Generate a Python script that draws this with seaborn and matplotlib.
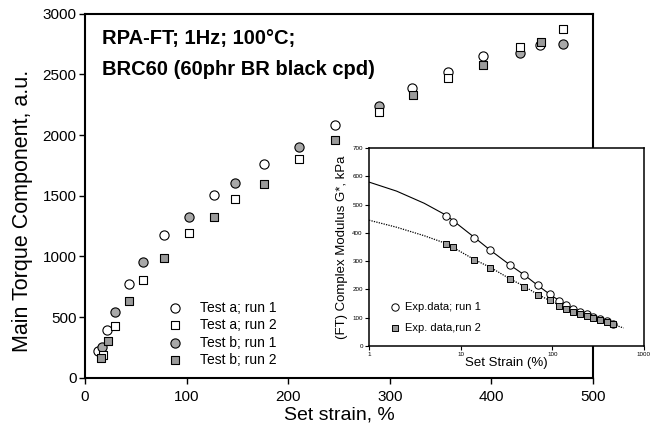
import matplotlib
matplotlib.use('Agg')
import matplotlib.pyplot as plt
import seaborn as sns

# ---- main chart: torque vs set strain ----
a1_strain = [13, 22, 43, 78, 127, 176, 246, 322, 357, 392, 448]
a1_torque = [220, 393, 770, 1176, 1503, 1762, 2083, 2390, 2523, 2647, 2743]
a2_strain = [18, 30, 57, 102, 148, 211, 289, 357, 428, 470]
a2_torque = [187, 426, 805, 1196, 1470, 1806, 2193, 2470, 2722, 2874]
b1_strain = [17, 29.5, 57, 102, 148, 211, 289, 428, 470]
b1_torque = [256, 539, 951, 1327, 1605, 1905, 2235, 2675, 2751]
b2_strain = [15.7, 22.3, 43, 78, 127, 176.5, 246, 322.5, 392, 448.5]
b2_torque = [160, 302, 632, 989, 1327, 1600, 1960, 2331, 2578, 2770]

# ---- inset: complex modulus vs strain (log) ----
ins_strain = [6.9, 8.3, 14, 21, 35, 49, 70, 94, 118, 143, 169, 200, 237, 280, 331, 392, 462]
ins_run1 = [461, 440, 383, 338, 287, 252, 214, 182, 160, 145, 132, 121, 112, 103, 95, 86, 77]
ins_run2 = [360, 349, 304, 276, 235, 209, 180, 161, 141, 131, 120, 111, 104, 97, 91, 84, 77]
fit1_strain = [1, 2, 4, 7, 14, 21, 35, 50, 70, 100, 150, 200, 300, 470]
fit1_mod = [580, 548, 505, 462, 385, 339, 285, 250, 213, 176, 140, 122, 97, 76]
fit2_strain = [1, 2, 4, 7, 14, 21, 35, 50, 70, 100, 150, 200, 300, 450, 600]
fit2_mod = [445, 420, 390, 362, 306, 278, 236, 210, 181, 156, 128, 112, 92, 77, 63]

sns.set_theme(style='ticks')
plt.rcParams['font.family'] = ['Liberation Sans', 'DejaVu Sans']
plt.rcParams.update({'text.color': 'black', 'axes.labelcolor': 'black',
                     'xtick.color': 'black', 'ytick.color': 'black'})

grey_c = '#a8a8a8'
grey_s = '#9a9a9a'

fig = plt.figure(figsize=(6.59, 4.36), dpi=100)
ax = fig.add_axes([0.129, 0.1337, 0.771, 0.835])

# circles first, squares on top
sns.scatterplot(x=a1_strain, y=a1_torque, marker='o', s=44, color='white',
                edgecolor='black', linewidth=0.8, ax=ax, zorder=3, label='Test a; run 1')
sns.scatterplot(x=b1_strain, y=b1_torque, marker='o', s=44, color=grey_c,
                edgecolor='black', linewidth=0.8, ax=ax, zorder=3, label='Test b; run 1')
sns.scatterplot(x=a2_strain, y=a2_torque, marker='s', s=36, color='white',
                edgecolor='black', linewidth=0.8, ax=ax, zorder=4, label='Test a; run 2')
sns.scatterplot(x=b2_strain, y=b2_torque, marker='s', s=36, color=grey_s,
                edgecolor='black', linewidth=0.8, ax=ax, zorder=4, label='Test b; run 2')

ax.set_xlim(0, 500)
ax.set_ylim(0, 3000)
ax.set_xticks([0, 100, 200, 300, 400, 500])
ax.set_yticks([0, 500, 1000, 1500, 2000, 2500, 3000])
ax.tick_params(axis='both', direction='out', length=4, width=1, labelsize=11, color='black')
ax.tick_params(axis='x', pad=5)
ax.tick_params(axis='y', pad=2)
for sp in ax.spines.values():
    sp.set_visible(True)
    sp.set_linewidth(1.5)
    sp.set_color('black')
ax.grid(False)

ax.set_xlabel('Set strain, %', fontsize=14, labelpad=1.5)
ax.set_ylabel('Main Torque Component, a.u.', fontsize=15.5)
ax.yaxis.set_label_coords(-0.102, 0.459)

ax.text(0.033, 0.957, 'RPA-FT; 1Hz; 100°C;', transform=ax.transAxes,
        fontsize=14.5, fontweight='bold', va='top', ha='left')
ax.text(0.033, 0.873, 'BRC60 (60phr BR black cpd)', transform=ax.transAxes,
        fontsize=14.5, fontweight='bold', va='top', ha='left')

h, l = ax.get_legend_handles_labels()
order = [l.index(n) for n in ['Test a; run 1', 'Test a; run 2', 'Test b; run 1', 'Test b; run 2']]
ax.legend([h[i] for i in order], [l[i] for i in order], loc='lower left',
          bbox_to_anchor=(0.139, 0.014), borderaxespad=0, frameon=False,
          fontsize=10, labelspacing=0.25, handletextpad=0.8)

# ---- inset ----
ins = fig.add_axes([0.560, 0.207, 0.417, 0.453])
ins.set_facecolor('white')
sns.lineplot(x=fit1_strain, y=fit1_mod, color='black', linewidth=0.8, ax=ins, zorder=2)
sns.lineplot(x=fit2_strain, y=fit2_mod, color='black', linewidth=0.9,
             linestyle=(0, (1, 1)), ax=ins, zorder=2)
sns.scatterplot(x=ins_strain, y=ins_run1, marker='o', s=28, color='white',
                edgecolor='black', linewidth=0.7, ax=ins, zorder=3, label='Exp.data; run 1')
sns.scatterplot(x=ins_strain, y=ins_run2, marker='s', s=22, color=grey_s,
                edgecolor='black', linewidth=0.7, ax=ins, zorder=4, label='Exp. data,run 2')

ins.set_xscale('log')
ins.set_xlim(1, 1000)
ins.set_ylim(0, 700)
ins.set_xticks([1, 10, 100, 1000])
ins.set_xticklabels(['1', '10', '100', '1000'])
ins.minorticks_off()
ins.set_yticks([0, 100, 200, 300, 400, 500, 600, 700])
ins.tick_params(axis='both', direction='out', length=3, width=0.8, labelsize=4.5, pad=1.5)
for sp in ins.spines.values():
    sp.set_visible(True)
    sp.set_linewidth(1.1)
    sp.set_color('black')
ins.grid(False)
ins.set_xlabel('Set Strain (%)', fontsize=9.5, labelpad=0)
ins.set_ylabel('(FT) Complex Modulus G*, kPa', fontsize=9.5, labelpad=3)

ins.legend(loc='lower left', bbox_to_anchor=(0.066, 0.044), borderaxespad=0,
           frameon=False, fontsize=8, handlelength=0.6, handletextpad=0.6,
           labelspacing=1.0)

fig.savefig('out.png', dpi=100)
